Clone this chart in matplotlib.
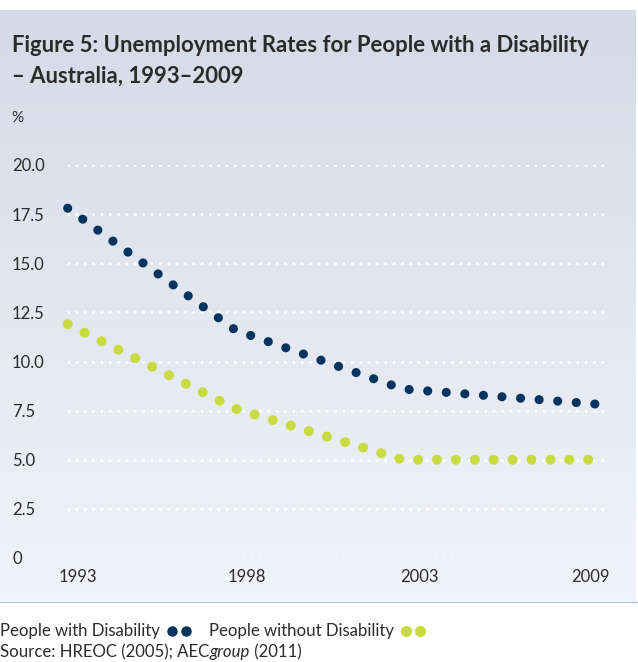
import numpy as np
import matplotlib.pyplot as plt
from matplotlib.lines import Line2D

plt.rcParams['lines.scale_dashes'] = False

# data (ABS survey years)
years = [1993, 1998, 2003, 2009]
with_disability = [17.8, 11.6, 8.6, 7.8]
without_disability = [11.9, 7.6, 5.0, 5.0]
y_ticks = [0, 2.5, 5.0, 7.5, 10.0, 12.5, 15.0, 17.5, 20.0]
y_tick_labels = ['0', '2.5', '5.0', '7.5', '10.0', '12.5', '15.0', '17.5', '20.0']
x_tick_labels = ['1993', '1998', '2003', '2009']

W, H = 638, 662
DARK = '#00345f'
GREEN = '#c8dc41'
TXT = '#2b2b2b'
TITLE_FONT = ['Lato', 'DejaVu Sans']
BODY_FONT = ['Lato', 'DejaVu Sans']


def fx(px):
    return px / W


def fy(py):
    return 1 - py / H


fig = plt.figure(figsize=(W / 100, H / 100), dpi=100)
fig.patch.set_facecolor('white')
renderer = fig.canvas.get_renderer()

# background panel with a soft vertical gradient
bg = fig.add_axes([0, fy(601), fx(636), (601 - 10) / H])
grad = np.linspace(0, 1, 256)[:, None, None]
top = np.array([0.835, 0.855, 0.905])
bot = np.array([0.948, 0.955, 0.975])
bg.imshow(top + (bot - top) * grad, aspect='auto', extent=[0, 1, 0, 1])
bg.axis('off')
fig.add_artist(Line2D([0, 1], [fy(601.5)] * 2, color='#b9c2d6', lw=1))

# plot area
x0, x1, ytop, ybot = 67.7, 604, 165, 558
ax = fig.add_axes([fx(x0), fy(ybot), (x1 - x0) / W, (ybot - ytop) / H])
ax.set_xlim(1993, 2009)
ax.set_ylim(0, 20)
ax.patch.set_alpha(0)
for s in ax.spines.values():
    s.set_visible(False)

grid = ax.hlines(y_ticks, 1993, 2009.12, colors='white', lw=2.3,
                 linestyles=[(0, (0.01, 6.0))], zorder=1)
grid.set_capstyle('round')

ax.plot(years, with_disability, color=DARK, lw=6.6, ls=(0, (0.01, 13.4)),
        dash_capstyle='round', clip_on=False, zorder=3)
ax.plot(years, without_disability, color=GREEN, lw=7.2, ls=(0, (0.01, 13.6)),
        dash_capstyle='round', clip_on=False, zorder=3)

ax.set_yticks(y_ticks, y_tick_labels)
ax.tick_params(axis='y', length=0, pad=(x0 - 12) * 0.72, labelsize=12, labelcolor=TXT)
for t in ax.get_yticklabels():
    t.set_ha('left')
    t.set_fontfamily(BODY_FONT)

tick_x = [1993.3, 1998.35, 2003.5, 2008.6]
ax.set_xticks(tick_x, x_tick_labels)
ax.tick_params(axis='x', length=0, pad=8, labelsize=12, labelcolor=TXT)
for t in ax.get_xticklabels():
    t.set_fontfamily(BODY_FONT)


def put_text(x, y, s, **kw):
    t = fig.text(fx(x), fy(y), s, va='baseline', ha='left', color=TXT, **kw)
    return t, t.get_window_extent(renderer)


# title, sized to the width it takes in the original
t1, bb = put_text(12, 52, 'Figure 5: Unemployment Rates for People with a Disability',
                  fontsize=16, weight='bold', family=TITLE_FONT)
tsize = 16 * 578 / bb.width
t1.set_fontsize(tsize)
put_text(12, 83, '\u2013 Australia, 1993\u20132009', fontsize=tsize, weight='bold',
         family=TITLE_FONT)

put_text(11, 122, '%', fontsize=11, family=BODY_FONT)

# legend row
lt, bb = put_text(0, 636, 'People with Disability', fontsize=12, family=BODY_FONT)
lsize = 12 * 160 / bb.width
lt.set_fontsize(lsize)
bb = lt.get_window_extent(renderer)


def dots(x, color, ms):
    for k in range(2):
        fig.add_artist(Line2D([fx(x + 12 + 14 * k)], [fy(631)], marker='o', ms=ms,
                              color=color, ls='none'))
    return x + 12 + 14 + 5


xe = dots(bb.x1, DARK, 6.5)
lt2, bb = put_text(xe + 18, 636, 'People without Disability', fontsize=lsize, family=BODY_FONT)
dots(bb.x1, GREEN, 7.0)

# source row
st, bb = put_text(0, 657, 'Source: HREOC (2005); AEC', fontsize=lsize, family=BODY_FONT)
st2, bb = put_text(bb.x1, 657, 'group', fontsize=lsize, family=BODY_FONT, style='italic')
put_text(bb.x1, 657, ' (2011)', fontsize=lsize, family=BODY_FONT)

fig.savefig('out.png', dpi=100)
